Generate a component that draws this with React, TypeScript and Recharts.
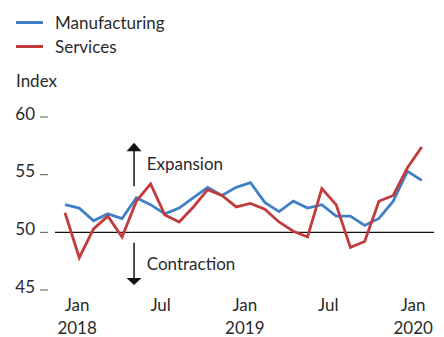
import { Line, LineChart, ReferenceDot, ReferenceLine, XAxis, YAxis } from "recharts";

// monthly index readings, Jan 2018 - Feb 2020
const months = [
  "2018-01", "2018-02", "2018-03", "2018-04", "2018-05", "2018-06",
  "2018-07", "2018-08", "2018-09", "2018-10", "2018-11", "2018-12",
  "2019-01", "2019-02", "2019-03", "2019-04", "2019-05", "2019-06",
  "2019-07", "2019-08", "2019-09", "2019-10", "2019-11", "2019-12",
  "2020-01", "2020-02",
];
const manufacturing = [
  52.4, 52.1, 51.0, 51.6, 51.2, 53.0, 52.4, 51.6, 52.1, 53.0, 53.9, 53.2,
  53.9, 54.3, 52.6, 51.8, 52.7, 52.1, 52.4, 51.4, 51.4, 50.6, 51.2, 52.7,
  55.3, 54.5,
];
const services = [
  51.7, 47.8, 50.3, 51.4, 49.6, 52.7, 54.2, 51.5, 50.9, 52.2, 53.7, 53.2,
  52.2, 52.5, 52.0, 50.9, 50.1, 49.6, 53.8, 52.4, 48.7, 49.2, 52.7, 53.2,
  55.6, 57.4,
];
const seriesNames = ["Manufacturing", "Services"];
const yTicks = [45, 50, 55, 60];
const xTickMonth = ["Jan", "Jul", "Jan", "Jul", "Jan"];
const xTickYear = ["2018", "", "2019", "", "2020"];

const xTickAt = [0.85, 6.7, 12.6, 18.45, 24.4];

const data = months.map((m, i) => ({
  i,
  month: m,
  manufacturing: manufacturing[i],
  services: services[i],
}));

const FONT = "Lato, 'Open Sans', sans-serif";
const TEXT = "#2a2a2a";
const BLUE = "#3f80c7";
const RED = "#c23a3c";

const LeftTick = (props: any) => {
  const { x, y, payload } = props;
  return (
    <g>
      <text x={x - 20} y={y + 2.5} textAnchor="end" fontSize={17} fontFamily={FONT} fill={TEXT}>
        {payload.value}
      </text>
      <line x1={x - 15} x2={x - 7} y1={y} y2={y} stroke="#555" strokeWidth={1} />
    </g>
  );
};

const RightTick = (props: any) => {
  const { x, y } = props;
  return <line x1={x + 5} x2={x + 10} y1={y} y2={y} stroke="#555" strokeWidth={1} />;
};

const BottomTick = (props: any) => {
  const { x, y, index } = props;
  return (
    <g fontSize={17} fontFamily={FONT} fill={TEXT} textAnchor="middle">
      <text x={x} y={y + 21}>{xTickMonth[index]}</text>
      <text x={x} y={y + 44}>{xTickYear[index]}</text>
    </g>
  );
};

const ArrowHead = ({ cx, cy, dir }: any) => {
  const d = dir === "up" ? 8.5 : -7;
  return <polygon points={`${cx},${cy} ${cx - 7.5},${cy + d} ${cx + 7.5},${cy + d}`} fill="#111" />;
};

const Note = ({ cx, cy, text }: any) => (
  <text x={cx} y={cy} dominantBaseline="central" fontSize={17} fontFamily={FONT} fill={TEXT}>
    {text}
  </text>
);

export default function App() {
  return (
    <div style={{ position: "fixed", left: 0, top: 0, width: 444, height: 337, background: "#fff" }}>
      <div style={{ position: "absolute", left: 16, top: 10, fontFamily: FONT, fontSize: 17, color: TEXT }}>
        {seriesNames.map((name, k) => (
          <div key={name} style={{ display: "flex", alignItems: "center", height: 24 }}>
            <span
              style={{
                display: "inline-block",
                width: 27,
                height: 3,
                background: k === 0 ? BLUE : RED,
                marginRight: 12,
                marginTop: 1,
              }}
            />
            {name}
          </div>
        ))}
        <div style={{ marginTop: 12 }}>Index</div>
      </div>
      <LineChart
        width={444}
        height={337}
        data={data}
        margin={{ top: 117, right: 0, bottom: 0, left: 0 }}
        style={{ overflow: "visible" }}
      >
        <XAxis
          dataKey="i"
          type="number"
          domain={[-0.7, 25.86]}
          ticks={xTickAt}
          tick={<BottomTick />}
          tickLine={false}
          axisLine={false}
          tickSize={0}
          tickMargin={0}
          height={47}
          interval={0}
          allowDataOverflow
        />
        <YAxis
          domain={[45, 60]}
          ticks={yTicks}
          tick={<LeftTick />}
          tickLine={false}
          axisLine={false}
          tickSize={0}
          tickMargin={0}
          width={55}
          allowDataOverflow
        />
        <YAxis
          yAxisId="r"
          orientation="right"
          domain={[45, 60]}
          ticks={yTicks}
          tick={<RightTick />}
          tickLine={false}
          axisLine={false}
          tickSize={0}
          tickMargin={0}
          width={10}
        />
        <ReferenceLine y={50} stroke="#111" strokeWidth={1.3} />
        <ReferenceLine segment={[{ x: 4.84, y: 54.0 }, { x: 4.84, y: 57.2 }]} stroke="#111" strokeWidth={1.5} />
        <ReferenceDot x={4.84} y={57.77} r={0} shape={(p: any) => <ArrowHead {...p} dir="up" />} />
        <ReferenceLine segment={[{ x: 4.84, y: 49.1 }, { x: 4.84, y: 46.0 }]} stroke="#111" strokeWidth={1.5} />
        <ReferenceDot x={4.84} y={45.43} r={0} shape={(p: any) => <ArrowHead {...p} dir="down" />} />
        <ReferenceDot x={5.73} y={55.98} r={0} shape={(p: any) => <Note {...p} text="Expansion" />} />
        <ReferenceDot x={5.73} y={47.31} r={0} shape={(p: any) => <Note {...p} text="Contraction" />} />
        <Line
          dataKey="manufacturing"
          name={seriesNames[0]}
          type="linear"
          stroke={BLUE}
          strokeWidth={2.8}
          dot={false}
          isAnimationActive={false}
        />
        <Line
          dataKey="services"
          name={seriesNames[1]}
          type="linear"
          stroke={RED}
          strokeWidth={2.8}
          dot={false}
          isAnimationActive={false}
        />
      </LineChart>
    </div>
  );
}
